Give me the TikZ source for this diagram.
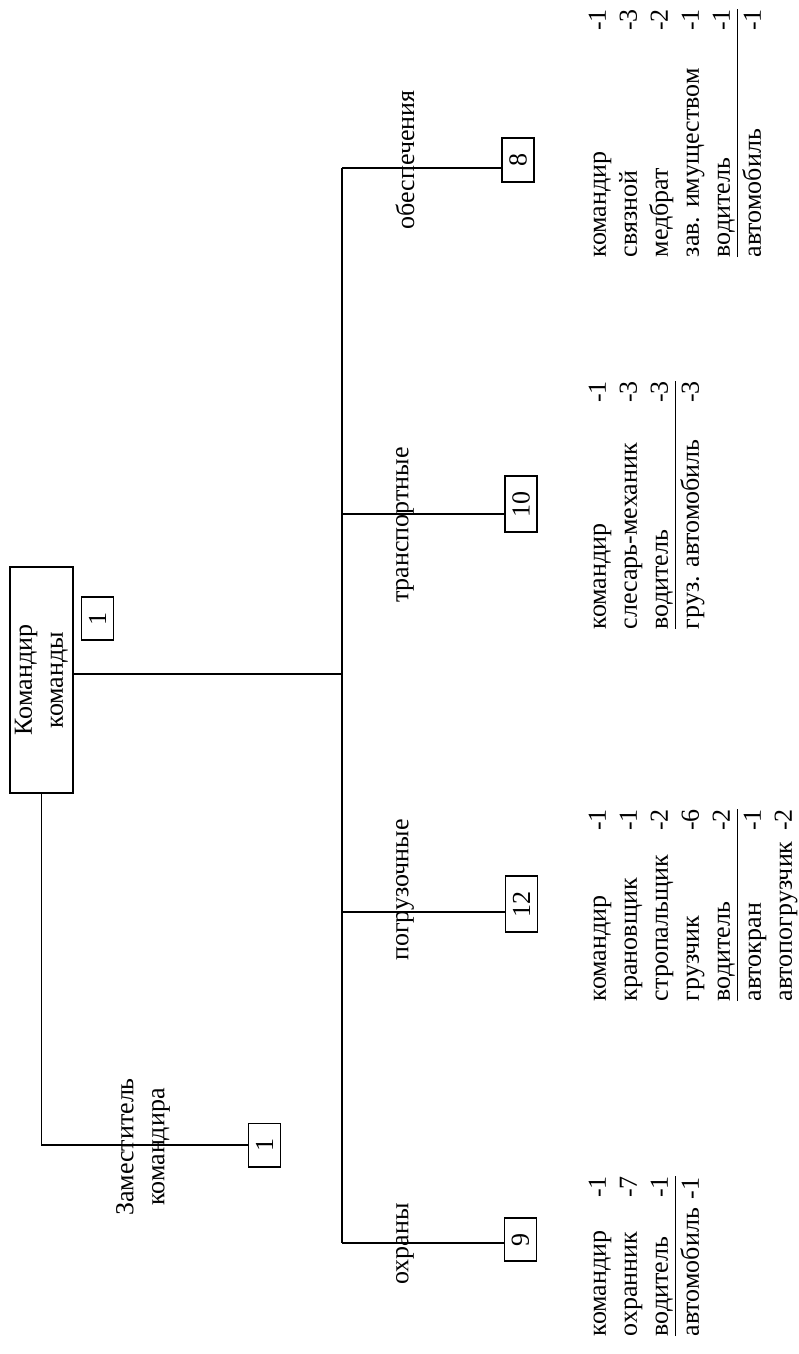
\documentclass[tikz,border=0pt]{standalone}
\usepackage{fontspec}
\setmainfont{Liberation Serif}
\usepackage{tikz}
\usetikzlibrary{positioning}
\frenchspacing
\tikzset{%
	num box/.style={
		draw,
		inner xsep=7.6pt,
		inner ysep=0pt,
		minimum height=16pt
	},
	staff list/.style={
		anchor=north west,
		align=left,
		inner sep=0pt
	},
	branch label/.style={
		inner sep=0pt
	},
}
\newcommand{\driverrow}[2]{\underline{\hbox to\hsize{#1\hfill #2}}}

\begin{document}
\begin{tikzpicture}[
				x=0.5pt, y=-0.5pt,
				line width=0.8pt,
				every node/.style={rotate=90, font=\fontsize{13}{15.5}\selectfont\frenchspacing}
				]
				\useasboundingbox (0,0) rectangle (798,1354);
				% head of the team
				\node[draw, minimum width=113pt, minimum height=31.5pt, inner sep=1pt, align=center] (head) at (41.5,680) {Командир\\команды};
				\node[num box] (headnum) at (97.5,618.5) {1};
				% deputy
				\node[align=center] (deputy) at (143,1147) {Заместитель\\командира};
				\node[num box] (deputynum) at (264.5,1145) {1};
				\draw (head.west) |- (deputynum.north);
				
				% trunk and branch points
				\coordinate (hub) at (342,674);
				\coordinate (b8) at (342,168);
				\coordinate (b10) at (342,514);
				\coordinate (b12) at (342,912);
				\coordinate (b9) at (342,1243);
				\draw (hub -| head.south) -- (hub);
				\draw (b8) -- (b9);
				
				% groups
				\node[branch label] (supply) at (405,160) {обеспечения};
				\node[branch label] (transport) at (405,525) {транспортные};
				\node[branch label] (loading) at (405,890) {погрузочные};
				\node[branch label] (guard) at (405,1244) {охраны};
				\node[num box] (supplynum) at (518,160) {8};
				\node[num box] (transportnum) at (521,504) {10};
				\node[num box] (loadingnum) at (521.5,904) {12};
				\node[num box] (guardnum) at (520.5,1239.5) {9};
				\draw (b8) -- (b8 -| supplynum.north);
				\draw (b10) -- (b10 -| transportnum.north);
				\draw (b12) -- (b12 -| loadingnum.north);
				\draw (b9) -- (b9 -| guardnum.north);
				
				% staff of each group
				\node[staff list, text width=124pt] (supplystaff) at (588,258) {%
					командир\hfill -1\\
					связной\hfill -3\\
					медбрат\hfill -2\\
					зав. имуществом\hfill -1\\
					\driverrow{водитель}{-1}\\
					автомобиль\hfill -1};
				\node[staff list, text width=124pt] (transportstaff) at (588,630) {%
					командир\hfill -1\\
					слесарь-механик\hfill -3\\
					\driverrow{водитель}{-3}\\
					груз. автомобиль\hfill -3};
				\node[staff list, text width=80pt] (guardstaff) at (588,1337) {%
					командир\hfill -1\\
					охранник\hfill -7\\
					\driverrow{водитель}{-1}\\
					\mbox{автомобиль -1}};
				\node[staff list, text width=96pt] (loadingstaff) at (588,1002) {%
					командир\hfill -1\\
					крановщик\hfill -1\\
					стропальщик\hfill -2\\
					грузчик\hfill -6\\
					\driverrow{водитель}{-2}\\
					автокран\hfill -1\\
					автопогрузчик\hfill -2};
			\end{tikzpicture}
\end{document}
